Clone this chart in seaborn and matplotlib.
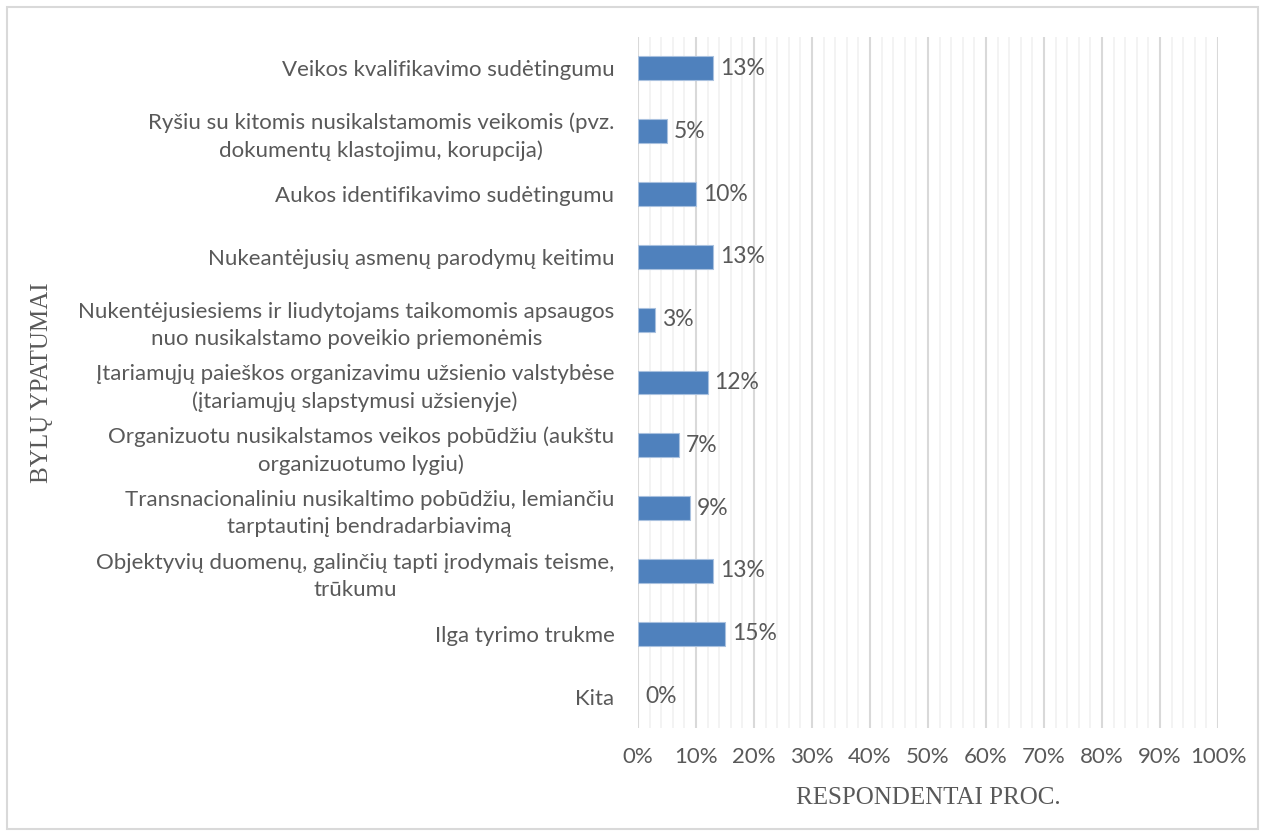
import matplotlib.pyplot as plt
import matplotlib.patches as mpatches
from matplotlib.ticker import MultipleLocator, FuncFormatter
import seaborn as sns
import pandas as pd

categories = [
    "Veikos kvalifikavimo sudėtingumu",
    "Ryšiu su kitomis nusikalstamomis veikomis (pvz.\ndokumentų klastojimu, korupcija)",
    "Aukos identifikavimo sudėtingumu",
    "Nukeantėjusių asmenų parodymų keitimu",
    "Nukentėjusiesiems ir liudytojams taikomomis apsaugos\nnuo nusikalstamo poveikio priemonėmis",
    "Įtariamųjų paieškos organizavimu užsienio valstybėse\n(įtariamųjų slapstymusi užsienyje)",
    "Organizuotu nusikalstamos veikos pobūdžiu (aukštu\norganizuotumo lygiu)",
    "Transnacionaliniu nusikaltimo pobūdžiu, lemiančiu\ntarptautinį bendradarbiavimą",
    "Objektyvių duomenų, galinčių tapti įrodymais teisme,\ntrūkumu",
    "Ilga tyrimo trukme",
    "Kita",
]
values = [13, 5, 10, 13, 3, 12, 7, 9, 13, 15, 0]

df = pd.DataFrame({"cat": categories, "val": values})

sns.set_style("white")
plt.rcParams["font.family"] = ["Lato", "DejaVu Sans"]

fig = plt.figure(figsize=(12.65, 8.36), dpi=100)
ax = fig.add_axes([638 / 1265, 1 - 728 / 836, 580 / 1265, 691 / 836])

sns.barplot(data=df, x="val", y="cat", orient="h", color="#4F81BD",
            width=0.38, edgecolor="#A9C1DF", linewidth=0.8, saturation=1, ax=ax)
for p in ax.patches:
    if p.get_width() == 0:
        p.set_linewidth(0)

ax.set_xlim(0, 100)
ax.xaxis.set_major_locator(MultipleLocator(10))
ax.xaxis.set_minor_locator(MultipleLocator(2))
ax.xaxis.set_major_formatter(FuncFormatter(lambda v, p: f"{v:.0f}%"))
ax.grid(which="minor", axis="x", color="#F2F2F2", linewidth=1.3)
ax.grid(which="major", axis="x", color="#D9D9D9", linewidth=1.5)
ax.set_axisbelow(True)
for s in ax.spines.values():
    s.set_visible(False)

ax.set_yticks(range(len(categories)), categories, multialignment="center",
              linespacing=1.45)
ax.tick_params(axis="both", which="both", length=0, labelsize=16,
               labelcolor="#595959")
ax.tick_params(axis="y", pad=17)
ax.tick_params(axis="x", pad=14)

for i, v in enumerate(values):
    ax.annotate(f"{v}%", (v, i), xytext=(5, 0), textcoords="offset points",
                ha="left", va="center", fontsize=16.5, color="#595959")

ax.set_xlabel("RESPONDENTAI PROC.", family="Liberation Serif", fontsize=18,
              color="#595959")
ax.set_ylabel("BYLŲ YPATUMAI", family="Liberation Serif", fontsize=18,
              color="#595959")
ax.xaxis.set_label_coords(0.5, -0.101)
ax.yaxis.set_label_coords(-1.028, 0.5)
ax.xaxis.label.set_va("center")
ax.yaxis.label.set_va("center")

fig.patches.append(mpatches.Rectangle((7 / 1265, 7 / 836), 1251 / 1265, 822 / 836,
                                      transform=fig.transFigure, fill=False,
                                      edgecolor="#D9D9D9", linewidth=1.5))

fig.savefig("out.png", dpi=100)
